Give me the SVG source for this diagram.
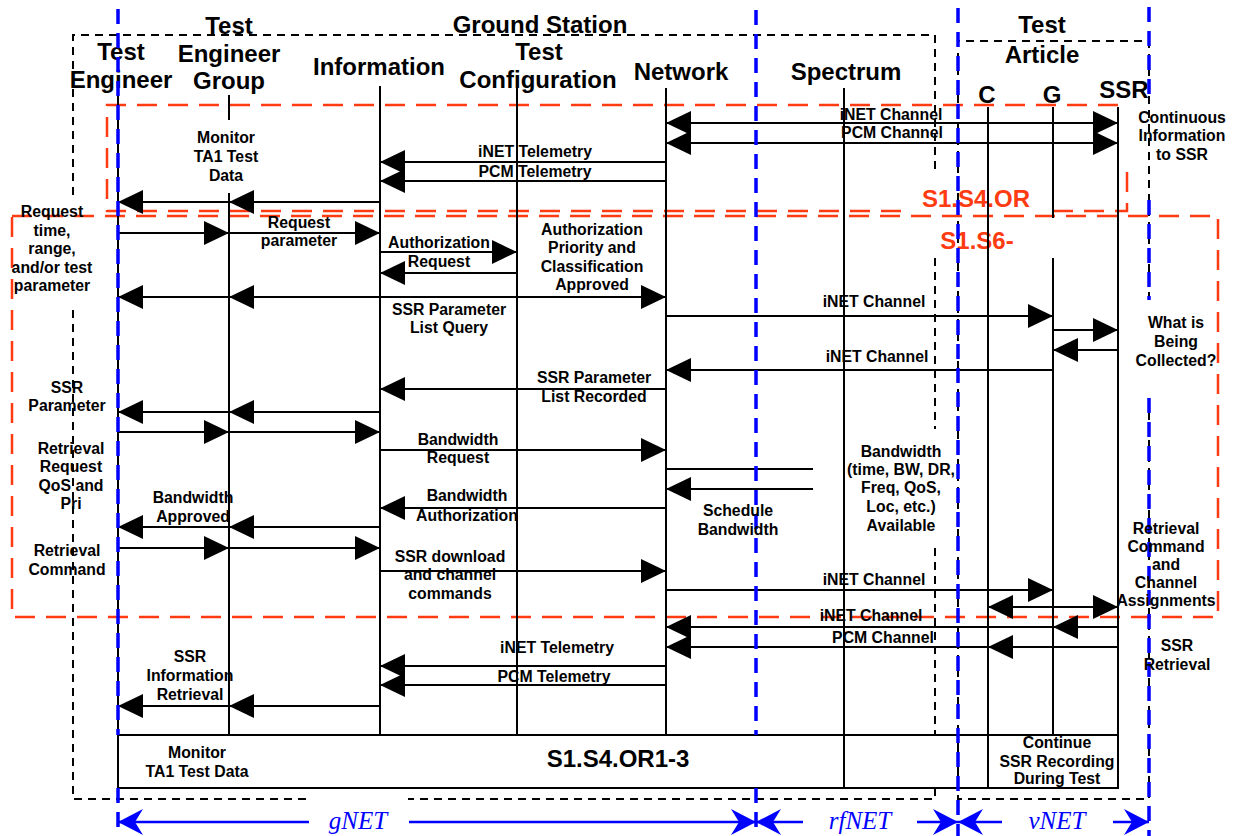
<svg xmlns="http://www.w3.org/2000/svg" width="1234" height="836" viewBox="0 0 1234 836">
<style>
  text { font-family: "Liberation Sans", Arial, sans-serif; font-weight: bold; fill: #000; text-anchor: middle; }
  .hd { font-size: 24px; }
  .lb { font-size: 15.8px; }
  .red { font-size: 24px; fill: #ff3b12; }
  .net { font-family: "Liberation Serif", "Times New Roman", serif; font-style: italic; font-weight: normal; font-size: 25px; fill: #0000ff; }
  .life { stroke: #000; stroke-width: 2; fill: none; }
  .msg { stroke: #000; stroke-width: 2; fill: none; marker-end: url(#ah); }
  .both { marker-start: url(#ahs); }
  .plain { stroke: #000; stroke-width: 2; fill: none; }
  .box { stroke: #000; stroke-width: 2; stroke-dasharray: 8 6; fill: none; }
  .rbox { stroke: #ff3b12; stroke-width: 2.5; stroke-dasharray: 20 11; fill: none; }
  .bl { stroke: #0000ff; stroke-width: 3.5; stroke-dasharray: 15 9; fill: none; }
  .ba { stroke: #0000ff; stroke-width: 2.5; fill: none; marker-end: url(#bah); }
  .bln { stroke: #0000ff; stroke-width: 2.5; fill: none; }
</style>
<defs>
  <marker id="ah" markerUnits="userSpaceOnUse" markerWidth="25" markerHeight="24" viewBox="0 0 25 24" refX="25" refY="12" orient="auto">
    <path d="M0,0 L25,12 L0,24 Z" fill="#000"/>
  </marker>
  <marker id="ahs" markerUnits="userSpaceOnUse" markerWidth="25" markerHeight="24" viewBox="0 0 25 24" refX="25" refY="12" orient="auto-start-reverse">
    <path d="M0,0 L25,12 L0,24 Z" fill="#000"/>
  </marker>
  <marker id="bah" markerUnits="userSpaceOnUse" markerWidth="25" markerHeight="26" viewBox="0 0 25 26" refX="25" refY="13" orient="auto">
    <path d="M0,0 L25,13 L0,26 L8,13 Z" fill="#0000ff"/>
  </marker>
</defs>
<rect width="1234" height="836" fill="#fff"/>

<!-- grouping frames -->
<g id="ground-station">
  <path class="box" d="M73,195 V35 H935 V175 M935,258 V429 M935,548 V735 M935,788 V799 H408 M306,799 H73 V307"/>
  <text class="hd" x="540" y="33">Ground Station</text>
</g>
<g id="test-article">
  <path class="box" d="M1149,300 V41 H958 V799 H1149 V398"/>
  <text class="hd" x="1042" y="33">Test</text>
  <text class="hd" x="1042" y="63">Article</text>
</g>

<!-- requirement regions -->
<g id="s1-s4-or">
  <path class="rbox" d="M1118,105 H107 V211 H903 M1053,211 H1127 V172"/>
  <text class="red" x="976" y="207">S1.S4.OR</text>
</g>
<g id="s1-s6">
  <rect class="rbox" x="12" y="216" width="1206" height="401"/>
  <text class="red" x="977" y="249">S1.S6-</text>
</g>

<!-- participants -->
<g id="test-engineer">
  <text class="hd" x="121" y="60">Test</text>
  <text class="hd" x="121" y="88">Engineer</text>
  <line class="life" x1="118" y1="95" x2="118" y2="788"/>
</g>
<g id="test-engineer-group">
  <text class="hd" x="229" y="34">Test</text>
  <text class="hd" x="229" y="62">Engineer</text>
  <text class="hd" x="229" y="89">Group</text>
  <path class="life" d="M229,95 V120 M229,193 V735"/>
</g>
<g id="information">
  <text class="hd" x="379" y="75">Information</text>
  <line class="life" x1="380" y1="86" x2="380" y2="735"/>
</g>
<g id="test-configuration">
  <text class="hd" x="539" y="60">Test</text>
  <text class="hd" x="538" y="88">Configuration</text>
  <line class="life" x1="517" y1="88" x2="517" y2="735"/>
</g>
<g id="network">
  <text class="hd" x="681" y="80">Network</text>
  <line class="life" x1="666" y1="88" x2="666" y2="735"/>
</g>
<g id="spectrum">
  <text class="hd" x="846" y="80">Spectrum</text>
  <line class="life" x1="844" y1="88" x2="844" y2="788"/>
</g>
<g id="c">
  <text class="hd" x="987" y="103">C</text>
  <line class="life" x1="988" y1="107" x2="988" y2="788"/>
</g>
<g id="g">
  <text class="hd" x="1052" y="103">G</text>
  <path class="life" d="M1053,107 V218 M1053,258 V735"/>
</g>
<g id="ssr">
  <text class="hd" x="1124" y="98">SSR</text>
  <line class="life" x1="1118" y1="107" x2="1118" y2="788"/>
</g>

<!-- messages -->
<g id="connectors">
  <line class="msg both" x1="666" y1="123" x2="1118" y2="123"/>
  <line class="msg both" x1="666" y1="143" x2="1118" y2="143"/>
  <line class="msg" x1="666" y1="162" x2="380" y2="162"/>
  <line class="msg" x1="666" y1="181" x2="380" y2="181"/>
  <line class="msg" x1="380" y1="202" x2="229" y2="202"/>
  <line class="msg" x1="229" y1="202" x2="118" y2="202"/>
  <line class="msg" x1="118" y1="233" x2="229" y2="233"/>
  <line class="msg" x1="229" y1="233" x2="380" y2="233"/>
  <line class="msg" x1="380" y1="252" x2="517" y2="252"/>
  <line class="msg" x1="517" y1="273" x2="380" y2="273"/>
  <line class="msg" x1="517" y1="297" x2="666" y2="297"/>
  <line class="msg" x1="517" y1="297" x2="229" y2="297"/>
  <line class="msg" x1="229" y1="297" x2="118" y2="297"/>
  <line class="msg" x1="666" y1="316" x2="1053" y2="316"/>
  <line class="msg" x1="1053" y1="330" x2="1118" y2="330"/>
  <line class="msg" x1="1118" y1="350" x2="1053" y2="350"/>
  <line class="msg" x1="1053" y1="370" x2="666" y2="370"/>
  <line class="msg" x1="666" y1="389" x2="380" y2="389"/>
  <line class="msg" x1="380" y1="412" x2="229" y2="412"/>
  <line class="msg" x1="229" y1="412" x2="118" y2="412"/>
  <line class="msg" x1="118" y1="432" x2="229" y2="432"/>
  <line class="msg" x1="229" y1="432" x2="380" y2="432"/>
  <line class="msg" x1="380" y1="450" x2="666" y2="450"/>
  <line class="plain" x1="666" y1="469" x2="813" y2="469"/>
  <line class="msg" x1="813" y1="489" x2="666" y2="489"/>
  <line class="msg" x1="666" y1="508" x2="380" y2="508"/>
  <line class="msg" x1="380" y1="527" x2="229" y2="527"/>
  <line class="msg" x1="229" y1="527" x2="118" y2="527"/>
  <line class="msg" x1="118" y1="548" x2="229" y2="548"/>
  <line class="msg" x1="229" y1="548" x2="380" y2="548"/>
  <line class="msg" x1="380" y1="571" x2="666" y2="571"/>
  <line class="msg" x1="666" y1="590" x2="1053" y2="590"/>
  <line class="msg both" x1="988" y1="607" x2="1118" y2="607"/>
  <line class="msg" x1="1118" y1="627" x2="1053" y2="627"/>
  <line class="msg" x1="1053" y1="627" x2="666" y2="627"/>
  <line class="msg" x1="1118" y1="647" x2="988" y2="647"/>
  <line class="msg" x1="988" y1="647" x2="666" y2="647"/>
  <line class="msg" x1="666" y1="666" x2="380" y2="666"/>
  <line class="msg" x1="666" y1="685" x2="380" y2="685"/>
  <line class="msg" x1="380" y1="706" x2="229" y2="706"/>
  <line class="msg" x1="229" y1="706" x2="118" y2="706"/>
</g>

<!-- summary bar -->
<g id="summary">
  <rect x="118" y="735" width="1000" height="53" fill="#fff" stroke="#000" stroke-width="2"/>
  <path class="life" d="M844,735 V788 M958,735 V788 M988,735 V788"/>
  <text class="red" style="fill:#000" x="618" y="767">S1.S4.OR1-3</text>
  <text class="lb"><tspan x="197" y="758">Monitor</tspan><tspan x="197" y="777">TA1 Test Data</tspan></text>
  <text class="lb"><tspan x="1057" y="748">Continue</tspan><tspan x="1057" y="767">SSR Recording</tspan><tspan x="1057" y="784">During Test</tspan></text>
</g>

<!-- network domains -->
<g id="domains">
  <path class="bl" d="M118,9 V735 M118,788 V836"/>
  <path class="bl" d="M756,10 V735 M756,788 V836"/>
  <path class="bl" d="M958,8 V836"/>
  <path class="bl" d="M1149,7 V97 M1149,200 V300 M1149,398 V836"/>
  <line class="ba" x1="309" y1="822" x2="118" y2="822"/>
  <line class="ba" x1="409" y1="822" x2="756" y2="822"/>
  <line class="ba" x1="803" y1="822" x2="756" y2="822"/>
  <line class="ba" x1="917" y1="822" x2="958" y2="822"/>
  <line class="ba" x1="1002" y1="822" x2="958" y2="822"/>
  <line class="ba" x1="1113" y1="822" x2="1149" y2="822"/>
  <text class="net" x="358" y="829">gNET</text>
  <text class="net" x="860" y="829">rfNET</text>
  <text class="net" x="1057" y="829">vNET</text>
</g>

<!-- message labels -->
<g id="labels" class="lb">
  <text class="lb" x="891" y="120">iNET Channel</text>
  <text class="lb" x="892" y="138">PCM Channel</text>
  <text class="lb"><tspan x="1182" y="123">Continuous</tspan><tspan x="1182" y="141">Information</tspan><tspan x="1182" y="160">to SSR</tspan></text>
  <text class="lb" x="535" y="157">iNET Telemetry</text>
  <text class="lb" x="535" y="177">PCM Telemetry</text>
  <text class="lb"><tspan x="226" y="143">Monitor</tspan><tspan x="226" y="162">TA1 Test</tspan><tspan x="226" y="181">Data</tspan></text>
  <text class="lb"><tspan x="52" y="217">Request</tspan><tspan x="52" y="235.5">time,</tspan><tspan x="52" y="254">range,</tspan><tspan x="52" y="272.5">and/or test</tspan><tspan x="52" y="291">parameter</tspan></text>
  <text class="lb"><tspan x="299" y="228">Request</tspan><tspan x="299" y="246">parameter</tspan></text>
  <text class="lb"><tspan x="439" y="248">Authorization</tspan><tspan x="439" y="267">Request</tspan></text>
  <text class="lb"><tspan x="592" y="235">Authorization</tspan><tspan x="592" y="253">Priority and</tspan><tspan x="592" y="272">Classification</tspan><tspan x="592" y="290">Approved</tspan></text>
  <text class="lb"><tspan x="449" y="315">SSR Parameter</tspan><tspan x="449" y="333">List Query</tspan></text>
  <text class="lb" x="874" y="307">iNET Channel</text>
  <text class="lb"><tspan x="1176" y="328">What is</tspan><tspan x="1176" y="347">Being</tspan><tspan x="1176" y="366">Collected?</tspan></text>
  <text class="lb" x="877" y="362">iNET Channel</text>
  <text class="lb"><tspan x="594" y="383">SSR Parameter</tspan><tspan x="594" y="402">List Recorded</tspan></text>
  <text class="lb"><tspan x="67" y="393">SSR</tspan><tspan x="67" y="411">Parameter</tspan></text>
  <text class="lb"><tspan x="71" y="454">Retrieval</tspan><tspan x="71" y="472">Request</tspan><tspan x="71" y="491">QoS and</tspan><tspan x="71" y="509">Pri</tspan></text>
  <text class="lb"><tspan x="458" y="445">Bandwidth</tspan><tspan x="458" y="463">Request</tspan></text>
  <text class="lb"><tspan x="901" y="457">Bandwidth</tspan><tspan x="901" y="475">(time, BW, DR,</tspan><tspan x="901" y="493">Freq, QoS,</tspan><tspan x="901" y="512">Loc, etc.)</tspan><tspan x="901" y="531">Available</tspan></text>
  <text class="lb"><tspan x="467" y="501">Bandwidth</tspan><tspan x="467" y="521">Authorization</tspan></text>
  <text class="lb"><tspan x="193" y="503">Bandwidth</tspan><tspan x="193" y="522">Approved</tspan></text>
  <text class="lb"><tspan x="738" y="516">Schedule</tspan><tspan x="738" y="535">Bandwidth</tspan></text>
  <text class="lb"><tspan x="67" y="556">Retrieval</tspan><tspan x="67" y="575">Command</tspan></text>
  <text class="lb"><tspan x="450" y="562">SSR download</tspan><tspan x="450" y="580">and channel</tspan><tspan x="450" y="599">commands</tspan></text>
  <text class="lb" x="874" y="585">iNET Channel</text>
  <text class="lb"><tspan x="1166" y="534">Retrieval</tspan><tspan x="1166" y="552">Command</tspan><tspan x="1166" y="570">and</tspan><tspan x="1166" y="588">Channel</tspan><tspan x="1166" y="606">Assignments</tspan></text>
  <text class="lb" x="871" y="621">iNET Channel</text>
  <text class="lb" x="883" y="643">PCM Channel</text>
  <text class="lb"><tspan x="1177" y="651">SSR</tspan><tspan x="1177" y="670">Retrieval</tspan></text>
  <text class="lb" x="557" y="653">iNET Telemetry</text>
  <text class="lb" x="554" y="682">PCM Telemetry</text>
  <text class="lb"><tspan x="190" y="662">SSR</tspan><tspan x="190" y="681">Information</tspan><tspan x="190" y="700">Retrieval</tspan></text>
</g>
</svg>
